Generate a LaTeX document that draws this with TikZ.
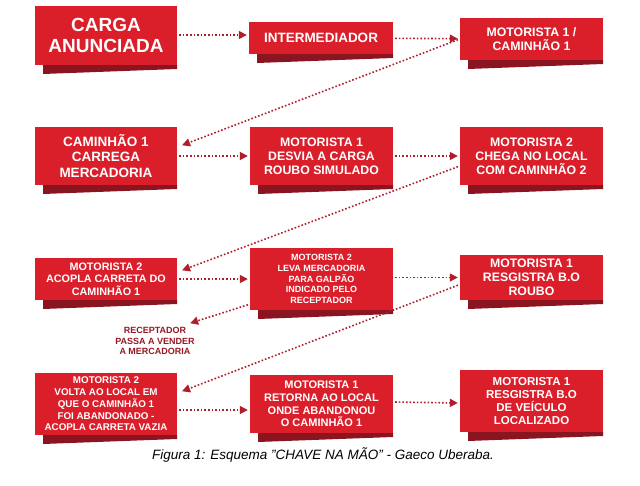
\documentclass[tikz,border=0pt]{standalone}
\usepackage{fontspec}
\setmainfont{Liberation Sans}
\usetikzlibrary{arrows.meta,calc}
\definecolor{boxred}{HTML}{DA1F2B}
\definecolor{shadowred}{HTML}{8A1520}
\definecolor{arr}{HTML}{B01E2C}
\tikzset{
  rbox/.style={fill=boxred, text=white, font=\bfseries\fontsize{12.3}{14}\selectfont, align=center, inner sep=1pt},
  flow/.style={arr, line width=1.6pt, dotted, -{Triangle[length=8pt,width=8pt]}, shorten >=2pt, shorten <=2pt},
}
\newcommand{\rb}[7][]{%
  \fill[shadowred] ($({#2},{#5})+(8,0)$) -- ({#4},{#5}) -- ++(0,4) -- ($({#2},{#5})+(8,9)$) -- cycle;
  \node[rbox,#1,minimum width=#4-#2, minimum height=#5-#3] (#6) at ({(#2+#4)/2},{(#3+#5)/2}) {#7};
}
\begin{document}
\begin{tikzpicture}[x=1pt,y=-1pt]
\useasboundingbox[fill=white] (0,0) rectangle (640,485);
\rb[font=\bfseries\fontsize{19}{21}\selectfont]{35}{6}{177}{65}{carga}{CARGA\\ANUNCIADA}
\rb[font=\bfseries\fontsize{13.5}{15}\selectfont]{249}{22}{393}{54}{inter}{INTERMEDIADOR}
\rb{460}{18}{603}{60}{m1c1}{MOTORISTA 1 /\\CAMINHÃO 1}
\rb[font=\bfseries\fontsize{13.5}{15.5}\selectfont]{35}{127}{177}{185}{cam1}{CAMINHÃO 1\\CARREGA\\MERCADORIA}
\rb{250}{127}{393}{185}{desvia}{MOTORISTA 1\\DESVIA A CARGA\\ROUBO SIMULADO}
\rb{460}{127}{603}{185}{chega}{MOTORISTA 2\\CHEGA NO LOCAL\\COM CAMINHÃO 2}
\rb[font=\bfseries\fontsize{10.8}{12.5}\selectfont]{35}{258}{177}{300}{acopla}{MOTORISTA 2\\ACOPLA CARRETA DO\\CAMINHÃO 1}
\rb[font=\bfseries\fontsize{9}{10.8}\selectfont]{250}{248}{393}{310}{leva}{MOTORISTA 2\\LEVA MERCADORIA\\PARA GALPÃO\\INDICADO PELO\\RECEPTADOR}
\rb{460}{255}{603}{300}{roubo}{MOTORISTA 1\\RESGISTRA B.O\\ROUBO}
\node[font=\bfseries\fontsize{9}{10.5}\selectfont, text=arr!85!black, align=center] (rec) at (155,341) {RECEPTADOR\\PASSA A VENDER\\A MERCADORIA};
\rb[font=\bfseries\fontsize{9.8}{11.8}\selectfont]{35}{373}{177}{435}{volta}{MOTORISTA 2\\VOLTA AO LOCAL EM\\QUE O CAMINHÃO 1\\FOI ABANDONADO -\\ACOPLA CARRETA VAZIA}
\rb[font=\bfseries\fontsize{11}{12.8}\selectfont]{250}{375}{393}{433}{retorna}{MOTORISTA 1\\RETORNA AO LOCAL\\ONDE ABANDONOU\\O CAMINHÃO 1}
\rb[font=\bfseries\fontsize{11.5}{13}\selectfont]{460}{370}{603}{432}{veic}{MOTORISTA 1\\RESGISTRA B.O\\DE VEÍCULO\\LOCALIZADO}
\node[font=\itshape\fontsize{13.5}{15}\selectfont] (cap) at (323,455) {Figura 1: Esquema "CHAVE NA MÃO" - Gaeco Uberaba.};
\draw[flow] (carga.east |- 0,35) -- (inter.west |- 0,35);
\draw[flow] (inter) -- (m1c1);
\draw[flow] (m1c1.west) -- ($(cam1.east)+(3,-10)$);
\draw[flow] (cam1) -- (desvia);
\draw[flow] (desvia) -- (chega);
\draw[flow] ($(chega.west)+(0,10)$) -- ($(acopla.east)+(3,-8)$);
\draw[flow] (acopla) -- (leva.west |- acopla);
\draw[flow] (leva.east |- roubo) -- (roubo);
\draw[flow] ($(leva.south west)+(0,-6)$) -- ($(rec.north east)+(-10,0)$);
\draw[flow] ($(roubo.west)+(0,7)$) -- ($(volta.east)+(3,-12)$);
\draw[flow] ($(volta.east)+(0,6)$) -- ($(retorna.west)+(0,6)$);
\draw[flow] ($(retorna.east)+(0,-2)$) -- ($(veic.west)+(0,2)$);
\end{tikzpicture}
\end{document}
